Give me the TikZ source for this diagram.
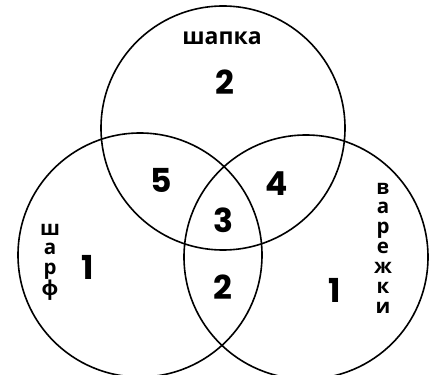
\documentclass[tikz,border=0pt]{standalone}
\usepackage{fontspec}
\setmainfont{Open Sans}
\newfontfamily\digitfont{Poppins}
\begin{document}
\begin{tikzpicture}[x=1pt,y=-1pt,
    num/.style={font=\digitfont\bfseries\fontsize{33}{33}\selectfont, inner sep=0pt},
    lbl/.style={font=\bfseries\fontsize{23}{23}\selectfont, inner sep=0pt},
    vlbl/.style={font=\bfseries\fontsize{20.5}{20.5}\selectfont, inner sep=0pt, anchor=base}]
        % три кола однакового радіуса
        \def\rad{122}
        \useasboundingbox (0,0) rectangle (438,374);
        \clip (0,0) rectangle (438,374);
        \coordinate (T) at (223,128);
        \coordinate (L) at (140,255);
        \coordinate (R) at (306,257);

        \draw[line width=1.6pt] (T) circle (\rad) (L) circle (\rad) (R) circle (\rad);

        % назви множин (вертикальні - по літері)
        \node[lbl] (hat) at (222,38) {шапка};
        \foreach \ch/\y [count=\i] in {ш/235,а/254,р/274,ф/295}
            \node[vlbl] (scarf\i) at (50,\y) {\ch};
        \foreach \ch/\y [count=\i] in {в/194,а/213,р/233,е/253,ж/273,к/293,и/313}
            \node[vlbl] (mitt\i) at (383,\y) {\ch};

        % кількість у кожній частині
        \node[num] (nT) at (225,82) {2};
        \node[num] (nTL) at (161,180) {5};
        \node[num] (nTR) at (277,184) {4};
        \node[num] (nTLR) at (223,220) {3};
        \node[num] (nLR) at (223,287) {2};
        \node[num] (nL) at (88,267) {1};
        \node[num] (nR) at (335,290) {1};
    \end{tikzpicture}
\end{document}
